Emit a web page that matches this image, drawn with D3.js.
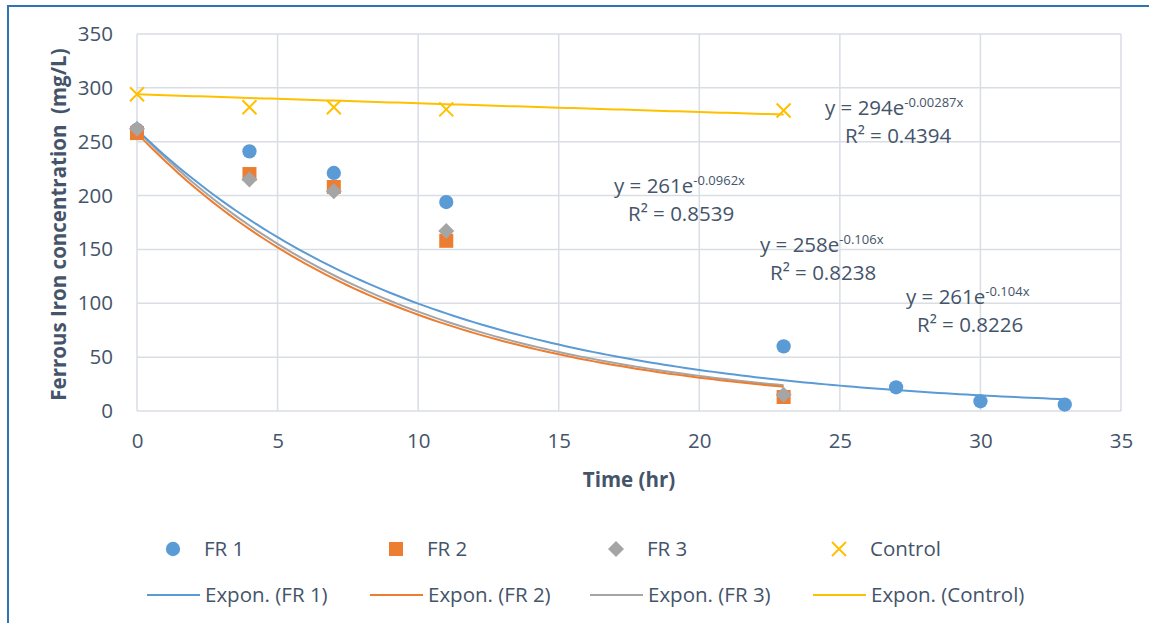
<!DOCTYPE html>
<html>
<head>
<meta charset="utf-8">
<script src="https://cdn.jsdelivr.net/npm/d3@7"></script>
<style>
  html, body { margin: 0; padding: 0; background: #fff; }
  svg { display: block; font-family: "Open Sans", "Noto Sans", sans-serif; }
</style>
</head>
<body>
<svg id="chart" width="1149" height="623"></svg>
<script>
// Sampling times (hr)
const timesFR = [0, 4, 7, 11, 23];
const timesFR1 = [0, 4, 7, 11, 23, 27, 30, 33];
const timesControl = [0, 4, 7, 11, 23];

// Ferrous iron concentration (mg/L)
const fr1 = [261, 241, 221, 194, 60, 22, 9, 6];
const fr2 = [258, 220, 208, 158, 13];
const fr3 = [262, 215, 204, 167, 15];
const control = [294, 282, 282, 280, 279];

// Exponential fits: y = a * e^(b x)
const fitA = { fr1: 261, fr2: 258, fr3: 261, control: 294 };
const fitB = { fr1: -0.0962, fr2: -0.106, fr3: -0.104, control: -0.00287 };
const fitR2 = { fr1: "0.8539", fr2: "0.8238", fr3: "0.8226", control: "0.4394" };

const xTicks = [0, 5, 10, 15, 20, 25, 30, 35];
const yTicks = [0, 50, 100, 150, 200, 250, 300, 350];

const colors = { fr1: "#5B9BD5", fr2: "#ED7D31", fr3: "#A5A5A5", control: "#FFC000" };
const textColor = "#44546A";
const gridColor = "#D9DDE4";
const fs = 20.5;

const svg = d3.select("#chart");

// outer frame
svg.append("rect")
  .attr("x", 8).attr("y", 6).attr("width", 1160).attr("height", 640)
  .attr("fill", "none").attr("stroke", "#2E75B6").attr("stroke-width", 2);

const x = d3.scaleLinear().domain([0, 35]).range([137, 1121]);
const y = d3.scaleLinear().domain([0, 350]).range([411, 34]);

// gridlines
svg.append("g").selectAll("line").data(yTicks).join("line")
  .attr("x1", x(0)).attr("x2", x(35))
  .attr("y1", d => y(d)).attr("y2", d => y(d))
  .attr("stroke", gridColor).attr("stroke-width", 1.5);
svg.append("g").selectAll("line").data(xTicks).join("line")
  .attr("y1", y(0)).attr("y2", y(350))
  .attr("x1", d => x(d)).attr("x2", d => x(d))
  .attr("stroke", gridColor).attr("stroke-width", 1.5);

// axes (labels only)
const xAxis = svg.append("g").attr("transform", `translate(0,${y(0)})`)
  .call(d3.axisBottom(x).tickValues(xTicks).tickSize(0).tickPadding(22));
const yAxis = svg.append("g").attr("transform", `translate(${x(0)},0)`)
  .call(d3.axisLeft(y).tickValues(yTicks).tickSize(0).tickPadding(24));
[xAxis, yAxis].forEach(a => {
  a.select(".domain").remove();
  a.selectAll("text").attr("fill", textColor).attr("font-size", fs)
    .attr("font-family", "'Open Sans', sans-serif");
});

// axis titles
svg.append("text")
  .attr("x", x(17.5)).attr("y", 487)
  .attr("text-anchor", "middle").attr("font-weight", "bold")
  .attr("font-size", fs).attr("fill", textColor)
  .text("Time (hr)");
svg.append("text")
  .attr("transform", `translate(66,${(y(0) + y(350)) / 2 + 2}) rotate(-90)`)
  .attr("text-anchor", "middle").attr("font-weight", "bold")
  .attr("font-size", fs).attr("fill", textColor)
  .attr("xml:space", "preserve")
  .text("Ferrous Iron concentration  (mg/L)");

// trendlines
const line = d3.line().x(d => x(d[0])).y(d => y(d[1]));
function trend(key, xmax) {
  const pts = d3.range(0, xmax + 1e-9, 0.25).map(t => [t, fitA[key] * Math.exp(fitB[key] * t)]);
  svg.append("path").datum(pts)
    .attr("d", line).attr("fill", "none")
    .attr("stroke", colors[key]).attr("stroke-width", 2);
}
trend("control", 23);
trend("fr3", 23);
trend("fr2", 23);
trend("fr1", 33);

// marker shapes
const shapes = {
  fr1: d3.symbol().type(d3.symbolCircle).size(160)(),
  fr2: "M-7,-7H7V7H-7Z",
  fr3: "M0,-8L8,0L0,8L-8,0Z",
  control: "M-7,-7L7,7M-7,7L7,-7"
};
function drawMarker(sel, key) {
  sel.attr("d", shapes[key]);
  if (key === "control") sel.attr("stroke", colors[key]).attr("stroke-width", 2).attr("fill", "none");
  else sel.attr("fill", colors[key]);
}
function markers(key, xs, ys) {
  const data = xs.map((t, i) => [t, ys[i]]);
  svg.append("g").selectAll("path").data(data).join("path")
    .attr("transform", d => `translate(${x(d[0])},${y(d[1])})`)
    .call(drawMarker, key);
}
markers("fr1", timesFR1, fr1);
markers("fr2", timesFR, fr2);
markers("fr3", timesFR, fr3);
markers("control", timesControl, control);

// fit equations
function equation(key, ex, ey, rx, ry) {
  const t = svg.append("text").attr("x", ex).attr("y", ey)
    .attr("font-size", fs).attr("fill", textColor);
  t.append("tspan").text(`y = ${fitA[key]}e`);
  t.append("tspan").attr("dy", -8).attr("font-size", 13).text(`${fitB[key]}x`);
  svg.append("text").attr("x", rx).attr("y", ry)
    .attr("font-size", fs).attr("fill", textColor)
    .text(`R² = ${fitR2[key]}`);
}
equation("control", 825, 115, 845, 143);
equation("fr1", 614, 193, 628, 221);
equation("fr2", 760, 252, 770, 280);
equation("fr3", 906, 304, 917, 332);

// legend
const legendKeys = ["fr1", "fr2", "fr3", "control"];
const legendNames = ["FR 1", "FR 2", "FR 3", "Control"];
const legendX = [173, 396, 616, 839];
legendKeys.forEach((k, i) => {
  const cx = legendX[i];
  svg.append("path").attr("transform", `translate(${cx},549)`).call(drawMarker, k);
  svg.append("text").attr("x", cx + 31).attr("y", 556)
    .attr("font-size", fs).attr("fill", textColor).text(legendNames[i]);
  svg.append("line")
    .attr("x1", cx - 26).attr("x2", cx + 27).attr("y1", 595).attr("y2", 595)
    .attr("stroke", colors[k]).attr("stroke-width", 2);
  svg.append("text").attr("x", cx + 32).attr("y", 602)
    .attr("font-size", fs).attr("fill", textColor).text(`Expon. (${legendNames[i]})`);
});
</script>
</body>
</html>
